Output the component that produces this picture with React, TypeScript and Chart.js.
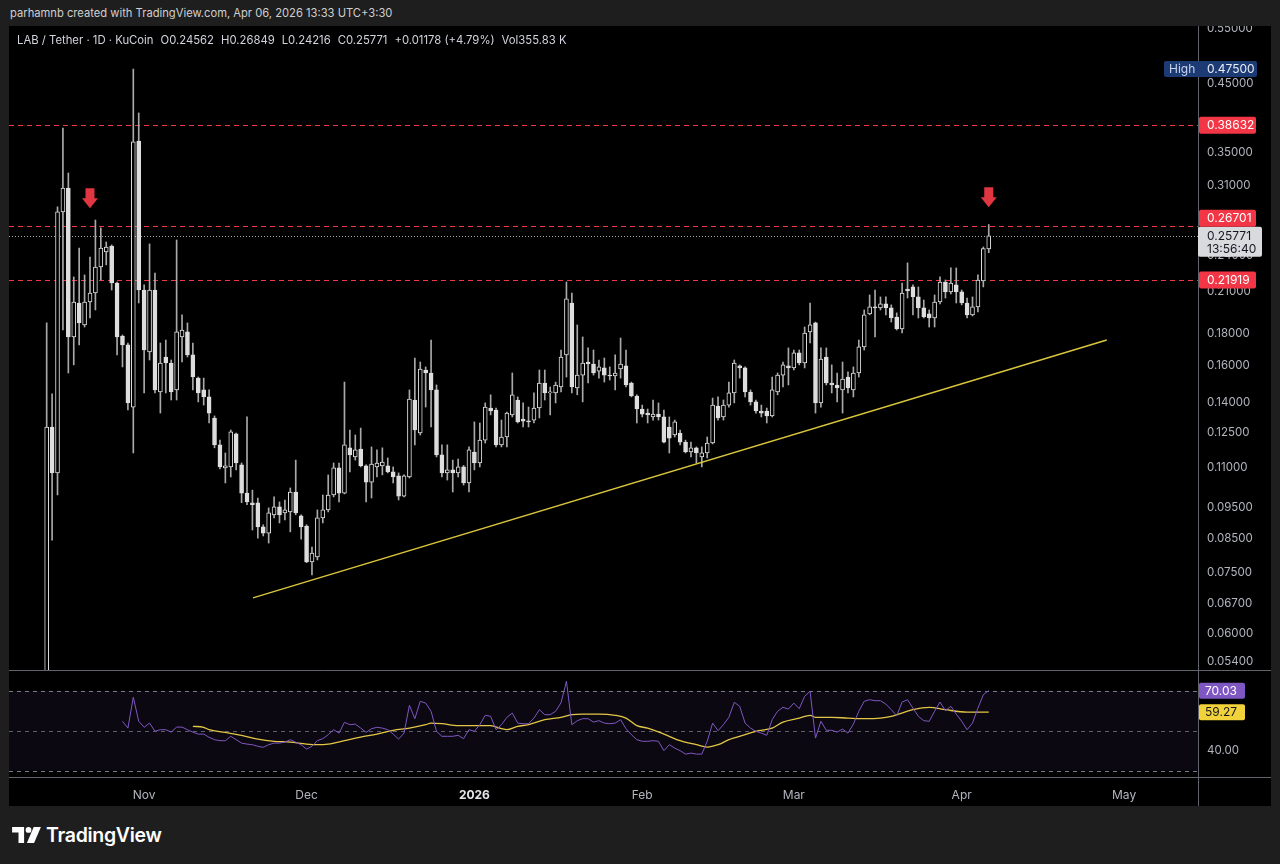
import React, { useEffect, useRef } from 'react';
import { Chart, registerables } from 'chart.js';

Chart.register(...registerables);

const FONT = 'Inter, "Noto Sans", "Liberation Sans", sans-serif';

// Daily candles, day 0 = 2025-10-14 (LAB / Tether, KuCoin, 1D)
const opens = [
  0.0400, 0.1278, 0.1080, 0.2812, 0.3070, 0.1778, 0.2014, 0.1858, 0.2021, 0.2089,
  0.2298, 0.2428, 0.2482, 0.2167, 0.1784, 0.1727, 0.1375, 0.3648, 0.2112, 0.1683,
  0.2112, 0.1453, 0.1652, 0.1616, 0.1464, 0.1778, 0.1811, 0.1665, 0.1529, 0.1464,
  0.1427, 0.1321, 0.1197, 0.1100, 0.1104, 0.1246, 0.1112, 0.1003, 0.0968, 0.0968,
  0.0886, 0.0866, 0.0926, 0.0954, 0.0933, 0.0936, 0.1007, 0.0923, 0.0889, 0.0779,
  0.0794, 0.0916, 0.0943, 0.0996, 0.1100, 0.1003, 0.1184, 0.1145, 0.1179, 0.1108,
  0.1044, 0.1104, 0.1108, 0.1108, 0.1084, 0.1068, 0.0992, 0.1064, 0.1411, 0.1250,
  0.1575, 0.1558, 0.1464, 0.1154, 0.1080, 0.1092, 0.1080, 0.1104, 0.1041, 0.1166,
  0.1120, 0.1218, 0.1370, 0.1360, 0.1197, 0.1232, 0.1336, 0.1411, 0.1316, 0.1306,
  0.1311, 0.1370, 0.1502, 0.1448, 0.1448, 0.1480, 0.1665, 0.2014, 0.1475, 0.1546,
  0.1622, 0.1610, 0.1569, 0.1587, 0.1546, 0.1541, 0.1581, 0.1599, 0.1502, 0.1432,
  0.1365, 0.1345, 0.1326, 0.1340, 0.1326, 0.1278, 0.1241, 0.1250, 0.1209, 0.1166,
  0.1184, 0.1145, 0.1162, 0.1205, 0.1380, 0.1326, 0.1385, 0.1448, 0.1599, 0.1587,
  0.1453, 0.1401, 0.1355, 0.1355, 0.1331, 0.1453, 0.1546, 0.1599, 0.1587, 0.1677,
  0.1616, 0.1811, 0.1872, 0.1396, 0.1652, 0.1502, 0.1491, 0.1464, 0.1535, 0.1464,
  0.1558, 0.1714, 0.1935, 0.1985, 0.1978, 0.2007, 0.1978, 0.1913, 0.1831, 0.2120,
  0.2136, 0.2059, 0.1978, 0.1935, 0.1906, 0.2021, 0.2175, 0.2097, 0.2152, 0.2097,
  0.2014, 0.1928, 0.1985, 0.2183, 0.24562,
];
const highs = [
  0.1872, 0.1443, 0.2864, 0.3826, 0.3244, 0.2216, 0.2464, 0.2232, 0.2384, 0.2730,
  0.2652, 0.2519, 0.2492, 0.2175, 0.1791, 0.1739, 0.4750, 0.4043, 0.2152, 0.2501,
  0.2248, 0.1739, 0.1758, 0.1634, 0.2537, 0.1928, 0.1872, 0.1739, 0.1535, 0.1529,
  0.1464, 0.1331, 0.1218, 0.1162, 0.1264, 0.1250, 0.1120, 0.1326, 0.1014, 0.0985,
  0.0893, 0.0950, 0.0989, 0.0971, 0.0978, 0.1022, 0.1132, 0.0926, 0.0893, 0.0823,
  0.0943, 0.0996, 0.1072, 0.1120, 0.1120, 0.1507, 0.1264, 0.1241, 0.1273, 0.1112,
  0.1188, 0.1175, 0.1184, 0.1141, 0.1104, 0.1080, 0.1072, 0.1464, 0.1646, 0.1622,
  0.1593, 0.1758, 0.1491, 0.1197, 0.1197, 0.1132, 0.1136, 0.1110, 0.1188, 0.1302,
  0.1297, 0.1396, 0.1438, 0.1370, 0.1311, 0.1350, 0.1558, 0.1427, 0.1396, 0.1375,
  0.1448, 0.1575, 0.1575, 0.1480, 0.1507, 0.1695, 0.2175, 0.2089, 0.1858, 0.1778,
  0.1708, 0.1695, 0.1634, 0.1646, 0.1593, 0.1665, 0.1771, 0.1695, 0.1507, 0.1438,
  0.1385, 0.1365, 0.1411, 0.1396, 0.1360, 0.1326, 0.1311, 0.1264, 0.1218, 0.1209,
  0.1188, 0.1188, 0.1232, 0.1421, 0.1427, 0.1411, 0.1507, 0.1634, 0.1605, 0.1593,
  0.1464, 0.1411, 0.1385, 0.1370, 0.1535, 0.1558, 0.1622, 0.1708, 0.1695, 0.1695,
  0.1844, 0.2014, 0.1878, 0.1708, 0.1708, 0.1605, 0.1558, 0.1622, 0.1564, 0.1593,
  0.1758, 0.1963, 0.2074, 0.2112, 0.2059, 0.2059, 0.2000, 0.1942, 0.2167, 0.2333,
  0.2152, 0.2136, 0.2036, 0.1963, 0.2074, 0.2216, 0.2191, 0.2290, 0.2290, 0.2112,
  0.2051, 0.2059, 0.2232, 0.2473, 0.26849,
];
const lows = [
  0.0350, 0.0844, 0.0996, 0.1824, 0.1558, 0.1605, 0.1727, 0.1844, 0.1906, 0.1963,
  0.2191, 0.2316, 0.2112, 0.1665, 0.1593, 0.1360, 0.1162, 0.2014, 0.1448, 0.1634,
  0.1448, 0.1345, 0.1448, 0.1411, 0.1411, 0.1622, 0.1652, 0.1464, 0.1401, 0.1385,
  0.1297, 0.1184, 0.1096, 0.1041, 0.1064, 0.1092, 0.0968, 0.0961, 0.0876, 0.0850,
  0.0857, 0.0835, 0.0916, 0.0899, 0.0909, 0.0870, 0.0926, 0.0847, 0.0777, 0.0743,
  0.0785, 0.0899, 0.0936, 0.0989, 0.0971, 0.1000, 0.1084, 0.1132, 0.1104, 0.0971,
  0.0985, 0.1064, 0.1072, 0.1080, 0.1041, 0.0978, 0.0989, 0.1060, 0.1197, 0.1241,
  0.1375, 0.1278, 0.1145, 0.1064, 0.1052, 0.1007, 0.1064, 0.1033, 0.1007, 0.1092,
  0.1104, 0.1205, 0.1336, 0.1188, 0.1188, 0.1188, 0.1326, 0.1297, 0.1278, 0.1278,
  0.1297, 0.1321, 0.1411, 0.1336, 0.1396, 0.1453, 0.1535, 0.1448, 0.1438, 0.1401,
  0.1502, 0.1546, 0.1529, 0.1507, 0.1518, 0.1464, 0.1529, 0.1480, 0.1427, 0.1297,
  0.1326, 0.1297, 0.1311, 0.1311, 0.1205, 0.1162, 0.1232, 0.1197, 0.1162, 0.1145,
  0.1120, 0.1104, 0.1141, 0.1201, 0.1311, 0.1311, 0.1375, 0.1396, 0.1529, 0.1427,
  0.1385, 0.1345, 0.1326, 0.1297, 0.1326, 0.1438, 0.1480, 0.1491, 0.1575, 0.1605,
  0.1587, 0.1739, 0.1345, 0.1375, 0.1491, 0.1448, 0.1401, 0.1345, 0.1448, 0.1427,
  0.1535, 0.1695, 0.1928, 0.1778, 0.1963, 0.1928, 0.1878, 0.1824, 0.1804, 0.2051,
  0.1928, 0.1906, 0.1906, 0.1844, 0.1844, 0.2007, 0.2051, 0.2082, 0.2014, 0.2000,
  0.1906, 0.1920, 0.1949, 0.2136, 0.24216,
];
const closes = [
  0.1278, 0.1080, 0.2812, 0.3070, 0.1778, 0.2021, 0.1872, 0.2021, 0.2089, 0.2298,
  0.2464, 0.2473, 0.2167, 0.1778, 0.1727, 0.1396, 0.3635, 0.2112, 0.1695, 0.2112,
  0.1464, 0.1616, 0.1616, 0.1453, 0.1811, 0.1824, 0.1665, 0.1535, 0.1448, 0.1427,
  0.1345, 0.1197, 0.1104, 0.1108, 0.1255, 0.1120, 0.1003, 0.0971, 0.0961, 0.0886,
  0.0866, 0.0933, 0.0954, 0.0926, 0.0943, 0.1007, 0.0933, 0.0886, 0.0779, 0.0805,
  0.0916, 0.0943, 0.0996, 0.1100, 0.1003, 0.1197, 0.1154, 0.1175, 0.1108, 0.1044,
  0.1116, 0.1120, 0.1124, 0.1084, 0.1064, 0.0992, 0.1068, 0.1416, 0.1264, 0.1581,
  0.1558, 0.1464, 0.1154, 0.1080, 0.1092, 0.1080, 0.1104, 0.1041, 0.1175, 0.1120,
  0.1218, 0.1375, 0.1355, 0.1197, 0.1232, 0.1345, 0.1438, 0.1302, 0.1306, 0.1302,
  0.1370, 0.1502, 0.1448, 0.1453, 0.1491, 0.1652, 0.2044, 0.1480, 0.1546, 0.1616,
  0.1610, 0.1558, 0.1593, 0.1546, 0.1541, 0.1558, 0.1610, 0.1491, 0.1432, 0.1365,
  0.1340, 0.1336, 0.1340, 0.1326, 0.1209, 0.1227, 0.1302, 0.1209, 0.1166, 0.1184,
  0.1162, 0.1162, 0.1205, 0.1385, 0.1321, 0.1385, 0.1448, 0.1616, 0.1587, 0.1453,
  0.1401, 0.1355, 0.1345, 0.1331, 0.1464, 0.1546, 0.1605, 0.1587, 0.1677, 0.1616,
  0.1804, 0.1858, 0.1396, 0.1640, 0.1502, 0.1491, 0.1475, 0.1524, 0.1475, 0.1558,
  0.1714, 0.1928, 0.1985, 0.1978, 0.2007, 0.1978, 0.1906, 0.1831, 0.2089, 0.2104,
  0.2059, 0.1978, 0.1913, 0.1906, 0.2021, 0.2175, 0.2097, 0.2167, 0.2097, 0.2014,
  0.1928, 0.1985, 0.2191, 0.24593, 0.25771,
];

const priceTicks = [0.054, 0.06, 0.067, 0.075, 0.085, 0.095, 0.11, 0.125, 0.14, 0.16, 0.18, 0.21, 0.24, 0.27, 0.31, 0.35, 0.45, 0.55];
const levelPrices = [0.38632, 0.26701, 0.21919];
const trendDays = [38.1, 195.8];
const trendPrices = [0.0683, 0.1758];
const arrowDays = [8, 174];
const arrowPrices = [0.285, 0.286];
const countdownText = '13:56:40';

const monthTickDays = [18, 48, 79, 110, 138, 169, 199];
const monthTickLabels = ['Nov', 'Dec', '2026', 'Feb', 'Mar', 'Apr', 'May'];

// RSI(14) from day 14 on
const rsiFirstDay = 14;
const rsiValues = [
  54.7, 51.3, 66.7, 54.7, 51.7, 53.8, 49.7, 50.5, 50.5, 49.3,
  51.8, 51.8, 50.5, 49.3, 48.3, 48.3, 46.7, 45.5, 45.0, 45.0,
  47.2, 45.5, 43.8, 43.3, 43.0, 42.2, 41.7, 43.0, 43.8, 43.8,
  44.3, 45.5, 44.2, 43.0, 40.8, 42.2, 45.0, 46.0, 48.0, 50.5,
  48.8, 54.2, 53.0, 53.3, 51.3, 49.2, 51.0, 51.7, 51.3, 50.5,
  48.3, 45.8, 48.8, 62.7, 56.0, 64.7, 63.8, 59.7, 49.7, 47.2,
  47.2, 47.2, 47.7, 46.0, 50.5, 49.7, 53.0, 57.7, 57.2, 50.5,
  53.0, 56.7, 58.8, 53.8, 53.5, 53.5, 56.3, 60.5, 58.0, 58.0,
  59.7, 64.0, 74.7, 53.0, 55.0, 56.0, 56.0, 54.3, 55.0, 53.8,
  53.5, 53.8, 55.5, 51.0, 48.0, 45.5, 44.7, 44.7, 45.0, 44.7,
  40.0, 43.0, 41.3, 40.0, 38.3, 38.8, 38.3, 38.3, 44.7, 53.8,
  50.0, 53.0, 56.7, 64.2, 62.2, 53.8, 51.3, 49.7, 48.8, 47.7,
  55.5, 59.7, 61.7, 60.8, 63.8, 61.0, 67.2, 69.7, 46.3, 54.7,
  50.2, 50.2, 49.3, 50.8, 48.8, 53.3, 59.7, 64.7, 65.5, 65.0,
  65.0, 63.3, 60.5, 57.5, 64.3, 65.5, 61.3, 57.2, 55.0, 54.7,
  59.7, 64.3, 60.0, 62.2, 58.3, 54.7, 50.5, 53.8, 61.3, 68.0,
  70.03,
];
// RSI-based moving average, read at these days
const rsiMaDays = [27, 29, 30, 33, 36, 39, 42, 45, 48, 50, 52, 55, 58, 61, 64, 67, 70, 71, 73, 76, 79, 82, 84, 85, 87, 89, 92, 95, 97, 99, 102, 105, 107, 109, 111, 114, 117, 120, 122, 124, 126, 129, 131, 134, 136, 139, 141, 142, 145, 148, 151, 154, 156, 160, 163, 166, 170, 174];
const rsiMaValues = [52.2, 51.7, 50.5, 49.2, 47.7, 45.8, 44.7, 44.3, 43.3, 43.0, 43.3, 45.0, 46.8, 48.3, 50.2, 51.3, 53.0, 53.8, 53.5, 52.5, 52.5, 52.5, 51.0, 50.5, 52.2, 53.0, 55.5, 56.7, 58.0, 58.3, 58.3, 57.7, 56.3, 52.5, 51.3, 48.3, 45.0, 43.0, 41.8, 43.0, 45.5, 48.0, 49.7, 51.3, 54.3, 56.3, 57.7, 56.7, 56.7, 56.3, 56.0, 56.3, 57.2, 60.5, 61.7, 60.5, 59.3, 59.27];
const rsiTicks = [40, 60];
const rsiBands = [70, 50, 30];

// axis ranges
const X_MIN = -6.96;
const X_MAX = 212.65;
const P_MIN = 0.052425;
const P_MAX = 0.55608;
const R_MIN = 26.85;
const R_MAX = 79.85;

const AXIS_W = 73;
const BODY = '#dedede';
const WICK = '#a9a9a9';
const RED = '#f23645';
const LINE_GRAY = '#62646c';
const TICK_COLOR = '#b2b5be';

const last = closes.length - 1;

function tag(ctx: CanvasRenderingContext2D, x: number, yc: number, w: number, h: number, bg: string) {
  ctx.fillStyle = bg;
  ctx.beginPath();
  (ctx as any).roundRect(x, yc - h / 2, w, h, 2);
  ctx.fill();
}

const noPadY = (s: any) => {
  s.width = AXIS_W;
  s.paddingTop = 0;
  s.paddingBottom = 0;
};

const priceDecor = {
  id: 'priceDecor',
  beforeDatasetsDraw(chart: any) {
    const { ctx, chartArea: a, scales } = chart;
    const y = scales.y;
    ctx.save();
    ctx.beginPath();
    ctx.rect(a.left, a.top, a.right - a.left, a.bottom - a.top);
    ctx.clip();
    ctx.lineWidth = 1;
    ctx.strokeStyle = RED;
    ctx.setLineDash([5, 4]);
    levelPrices.forEach((v) => {
      const py = Math.round(y.getPixelForValue(v)) + 0.5;
      ctx.beginPath();
      ctx.moveTo(a.left, py);
      ctx.lineTo(a.right, py);
      ctx.stroke();
    });
    ctx.strokeStyle = '#a3a5ab';
    ctx.setLineDash([1, 2]);
    const lp = Math.round(y.getPixelForValue(closes[last])) + 0.5;
    ctx.beginPath();
    ctx.moveTo(a.left, lp);
    ctx.lineTo(a.right, lp);
    ctx.stroke();
    ctx.restore();
  },
  afterDatasetsDraw(chart: any) {
    const { ctx, scales } = chart;
    const x = scales.x;
    const y = scales.y;
    ctx.save();
    ctx.fillStyle = '#e03642';
    arrowDays.forEach((d, k) => {
      const cx = x.getPixelForValue(d);
      const tip = y.getPixelForValue(arrowPrices[k]);
      ctx.beginPath();
      ctx.moveTo(cx - 4.5, tip - 20);
      ctx.lineTo(cx + 4.5, tip - 20);
      ctx.lineTo(cx + 4.5, tip - 10);
      ctx.lineTo(cx + 8, tip - 10);
      ctx.lineTo(cx, tip);
      ctx.lineTo(cx - 8, tip - 10);
      ctx.lineTo(cx - 4.5, tip - 10);
      ctx.closePath();
      ctx.fill();
    });
    ctx.restore();
  },
  afterDraw(chart: any) {
    const { ctx, chartArea: a, scales, height } = chart;
    const y = scales.y;
    ctx.save();
    ctx.strokeStyle = LINE_GRAY;
    ctx.lineWidth = 1;
    ctx.beginPath();
    ctx.moveTo(a.right + 0.5, 0);
    ctx.lineTo(a.right + 0.5, height);
    ctx.stroke();

    ctx.font = `12px ${FONT}`;
    ctx.textBaseline = 'middle';
    const tx = a.right + 9;

    // High tag
    const hi = Math.max(...highs);
    const hy = y.getPixelForValue(hi);
    tag(ctx, a.right - 34, hy, 93, 16, '#1c3a73');
    ctx.fillStyle = '#c9d3ec';
    ctx.fillText('High', a.right - 29, hy + 0.5);
    ctx.fillStyle = '#e8ecf5';
    ctx.fillText(hi.toFixed(5), tx, hy + 0.5);

    // last price box
    const lp = y.getPixelForValue(closes[last]);
    const boxTop = lp - 9;
    const boxBot = lp + 21;
    ctx.fillStyle = '#d9dadd';
    ctx.beginPath();
    (ctx as any).roundRect(a.right, boxTop, 64, boxBot - boxTop, 2);
    ctx.fill();
    ctx.fillStyle = '#131722';
    ctx.fillText(closes[last].toFixed(5), tx, lp + 0.5);
    ctx.fillText(countdownText, tx, lp + 13.5);

    // level tags
    levelPrices.forEach((v) => {
      let yc = y.getPixelForValue(v);
      if (yc + 8.5 > boxTop && yc - 8.5 < boxBot) {
        yc = yc < lp ? boxTop - 8.5 : boxBot + 8.5;
      }
      tag(ctx, a.right + 1, yc, 57, 17, RED);
      ctx.fillStyle = '#ffffff';
      ctx.fillText(v.toFixed(5), tx, yc + 0.5);
    });
    ctx.restore();
  },
};

const rsiDecor = {
  id: 'rsiDecor',
  beforeDatasetsDraw(chart: any) {
    const { ctx, chartArea: a, scales } = chart;
    const y = scales.y;
    const top = y.getPixelForValue(rsiBands[0]);
    const bot = y.getPixelForValue(rsiBands[2]);
    ctx.save();
    ctx.fillStyle = 'rgba(126,87,194,0.09)';
    ctx.fillRect(a.left, top, a.right - a.left, bot - top);
    ctx.lineWidth = 1;
    ctx.setLineDash([4, 4]);
    rsiBands.forEach((b, k) => {
      ctx.strokeStyle = k === 1 ? 'rgba(120,123,134,0.75)' : '#787b86';
      const py = Math.round(y.getPixelForValue(b)) + 0.5;
      ctx.beginPath();
      ctx.moveTo(a.left, py);
      ctx.lineTo(a.right, py);
      ctx.stroke();
    });
    ctx.restore();
  },
  afterDraw(chart: any) {
    const { ctx, chartArea: a, scales, width, height } = chart;
    const y = scales.y;
    ctx.save();
    ctx.strokeStyle = LINE_GRAY;
    ctx.lineWidth = 1;
    ctx.beginPath();
    ctx.moveTo(0, 0.5);
    ctx.lineTo(width, 0.5);
    ctx.moveTo(0, Math.round(a.bottom) + 0.5);
    ctx.lineTo(width, Math.round(a.bottom) + 0.5);
    ctx.moveTo(a.right + 0.5, 0);
    ctx.lineTo(a.right + 0.5, height);
    ctx.stroke();

    ctx.font = `12px ${FONT}`;
    ctx.textBaseline = 'middle';
    const tx = a.right + 7;
    const rsiLast = rsiValues[rsiValues.length - 1];
    const maLast = rsiMaValues[rsiMaValues.length - 1];
    const ry = y.getPixelForValue(rsiLast);
    const my = y.getPixelForValue(maLast);
    tag(ctx, a.right + 1, my, 46, 16, '#f2d23a');
    ctx.fillStyle = '#131722';
    ctx.fillText(maLast.toFixed(2), tx, my + 0.5);
    tag(ctx, a.right + 1, ry, 46, 16, '#7e57c2');
    ctx.fillStyle = '#ffffff';
    ctx.fillText(rsiLast.toFixed(2), tx, ry + 0.5);
    ctx.restore();
  },
};

function PriceChart() {
  const ref = useRef<HTMLCanvasElement | null>(null);
  useEffect(() => {
    if (!ref.current) return;
    const chart = new Chart(ref.current, {
      type: 'bar',
      data: {
        datasets: [
          {
            type: 'bar',
            label: 'wick',
            data: lows.map((l, i) => ({ x: i, y: [l, highs[i]] })) as any,
            backgroundColor: WICK,
            barThickness: 1,
            grouped: false,
            minBarLength: 1,
            order: 3,
          } as any,
          {
            type: 'bar',
            label: 'body',
            data: opens.map((o, i) => ({ x: i, y: [o, closes[i]] })) as any,
            backgroundColor: (c: any) => (closes[c.dataIndex] >= opens[c.dataIndex] ? '#000000' : BODY),
            borderColor: BODY,
            borderWidth: 1,
            borderSkipped: false,
            barThickness: 4,
            grouped: false,
            minBarLength: 1,
            order: 2,
          } as any,
          {
            type: 'line',
            label: 'trend',
            data: trendDays.map((d, k) => ({ x: d, y: trendPrices[k] })) as any,
            borderColor: '#d9c63c',
            borderWidth: 1.5,
            pointRadius: 0,
            order: 1,
          } as any,
        ],
      },
      options: {
        animation: false,
        responsive: false,
        events: [],
        layout: { padding: 0 },
        plugins: { legend: { display: false }, tooltip: { enabled: false } },
        scales: {
          x: {
            type: 'linear',
            min: X_MIN,
            max: X_MAX,
            offset: false,
            display: false,
          },
          y: {
            type: 'logarithmic',
            position: 'right',
            min: P_MIN,
            max: P_MAX,
            grid: { display: false, drawTicks: false },
            border: { display: false },
            afterFit: noPadY,
            afterBuildTicks: (s: any) => {
              s.ticks = priceTicks.map((v) => ({ value: v }));
            },
            ticks: {
              autoSkip: false,
              padding: 9,
              color: TICK_COLOR,
              font: { family: FONT, size: 11.5 },
              callback: (v: any) => Number(v).toFixed(5),
            },
          },
        },
      } as any,
      plugins: [priceDecor],
    });
    return () => chart.destroy();
  }, []);
  return (
    <canvas
      ref={ref}
      width={1262}
      height={644}
      style={{ position: 'absolute', left: 9, top: 26, width: 1262, height: 644 }}
    />
  );
}

function RsiChart() {
  const ref = useRef<HTMLCanvasElement | null>(null);
  useEffect(() => {
    if (!ref.current) return;
    const is2026 = (c: any) => c.tick && monthTickLabels[monthTickDays.indexOf(c.tick.value)] === '2026';
    const chart = new Chart(ref.current, {
      type: 'line',
      data: {
        datasets: [
          {
            label: 'RSI',
            data: rsiValues.map((v, k) => ({ x: rsiFirstDay + k, y: v })),
            borderColor: '#7e57c2',
            borderWidth: 1,
            pointRadius: 0,
            tension: 0,
          },
          {
            label: 'RSI MA',
            data: rsiMaDays.map((d, k) => ({ x: d, y: rsiMaValues[k] })),
            borderColor: '#e3c646',
            borderWidth: 1.3,
            pointRadius: 0,
            cubicInterpolationMode: 'monotone',
          },
        ],
      },
      options: {
        animation: false,
        responsive: false,
        events: [],
        layout: { padding: { top: 1, left: 0, right: 0, bottom: 0 } },
        plugins: { legend: { display: false }, tooltip: { enabled: false } },
        scales: {
          x: {
            type: 'linear',
            min: X_MIN,
            max: X_MAX,
            offset: false,
            grid: { display: false, drawTicks: false },
            border: { display: false },
            afterFit: (s: any) => {
              s.height = 29;
              s.paddingLeft = 0;
              s.paddingRight = 0;
            },
            afterBuildTicks: (s: any) => {
              s.ticks = monthTickDays.map((v) => ({ value: v }));
            },
            ticks: {
              autoSkip: false,
              maxRotation: 0,
              padding: 11,
              color: (c: any) => (is2026(c) ? '#e6e7ea' : TICK_COLOR),
              font: (c: any) => ({ family: FONT, size: 12, weight: is2026(c) ? 'bold' : 'normal' }),
              callback: (v: any) => monthTickLabels[monthTickDays.indexOf(Number(v))] ?? '',
            },
          },
          y: {
            type: 'linear',
            position: 'right',
            min: R_MIN,
            max: R_MAX,
            grid: { display: false, drawTicks: false },
            border: { display: false },
            afterFit: noPadY,
            afterBuildTicks: (s: any) => {
              s.ticks = rsiTicks.map((v) => ({ value: v }));
            },
            ticks: {
              autoSkip: false,
              padding: 9,
              color: TICK_COLOR,
              font: { family: FONT, size: 11.5 },
              callback: (v: any) => Number(v).toFixed(2),
            },
          },
        },
      } as any,
      plugins: [rsiDecor],
    });
    return () => chart.destroy();
  }, []);
  return (
    <canvas
      ref={ref}
      width={1262}
      height={136}
      style={{ position: 'absolute', left: 9, top: 670, width: 1262, height: 136 }}
    />
  );
}

export default function App() {
  const change = closes[last] - closes[last - 1];
  const pct = (change / closes[last - 1]) * 100;
  const sign = change >= 0 ? '+' : '';
  const item = { marginLeft: 7 };
  return (
    <div style={{ position: 'fixed', left: 0, top: 0, width: 1280, height: 864, background: '#1e1e1e', fontFamily: FONT, overflow: 'hidden' }}>
      <div style={{ position: 'absolute', left: 10, top: 6, fontSize: 11.2, color: '#cfcfcf', lineHeight: '15px' }}>
        parhamnb created with TradingView.com, Apr 06, 2026 13:33 UTC+3:30
      </div>
      <div style={{ position: 'absolute', left: 9, top: 26, width: 1262, height: 780, background: '#000000' }} />
      <PriceChart />
      <RsiChart />
      <div style={{ position: 'absolute', left: 17, top: 33, fontSize: 11.3, color: '#d1d4dc', lineHeight: '15px', whiteSpace: 'nowrap' }}>
        <span>LAB / Tether · 1D · KuCoin</span>
        <span style={item}>O{opens[last].toFixed(5)}</span>
        <span style={item}>H{highs[last].toFixed(5)}</span>
        <span style={item}>L{lows[last].toFixed(5)}</span>
        <span style={item}>C{closes[last].toFixed(5)}</span>
        <span style={item}>{sign}{change.toFixed(5)} ({sign}{pct.toFixed(2)}%)</span>
        <span style={item}>Vol355.83 K</span>
      </div>
      <svg width="29" height="16" viewBox="0 0 36 20" style={{ position: 'absolute', left: 12, top: 827 }}>
        <path d="M0 0h15v20H8V7H0z" fill="#ffffff" />
        <circle cx="20.5" cy="3.6" r="3.6" fill="#ffffff" />
        <path d="M27 0h9l-8.5 20H18.5z" fill="#ffffff" />
      </svg>
      <div style={{ position: 'absolute', left: 46, top: 823, fontSize: 19.5, fontWeight: 600, color: '#ffffff', lineHeight: '24px', letterSpacing: -0.3 }}>
        TradingView
      </div>
    </div>
  );
}
